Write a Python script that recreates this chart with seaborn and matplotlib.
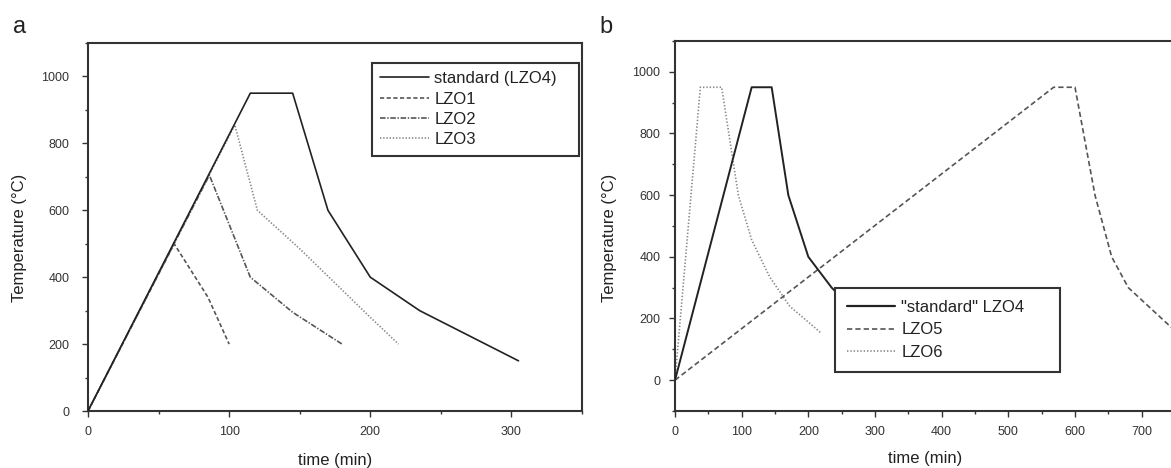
import matplotlib
matplotlib.use("Agg")
import matplotlib.pyplot as plt
import seaborn as sns
import pandas as pd
from matplotlib.ticker import MultipleLocator
from matplotlib.lines import Line2D

# ---------------- data ----------------
# panel a
std_t = [0, 115, 145, 170, 200, 235, 305]
std_T = [0, 950, 950, 600, 400, 300, 150]
lzo1_t = [0, 61, 85, 100]
lzo1_T = [0, 500, 340, 200]
lzo2_t = [0, 86, 115, 145, 180]
lzo2_T = [0, 705, 400, 295, 200]
lzo3_t = [0, 104, 120, 150, 200, 220]
lzo3_T = [0, 855, 600, 485, 280, 200]
labels_a = ["standard (LZO4)", "LZO1", "LZO2", "LZO3"]

# panel b
lzo4_t = [0, 115, 145, 170, 200, 235, 305]
lzo4_T = [0, 950, 950, 600, 400, 300, 150]
lzo5_t = [0, 568, 600, 630, 655, 680, 750]
lzo5_T = [0, 950, 950, 600, 400, 300, 160]
lzo6_t = [0, 38, 70, 95, 115, 142, 172, 218]
lzo6_T = [0, 950, 950, 600, 455, 335, 240, 155]
labels_b = ['"standard" LZO4', "LZO5", "LZO6"]

# ---------------- style ----------------
sns.set_style("ticks")
plt.rcParams["font.family"] = ["Liberation Sans", "DejaVu Sans"]
plt.rcParams["lines.scale_dashes"] = False

W, H = 1171, 468
fig = plt.figure(figsize=(W / 100, H / 100), dpi=100)

def axes_px(l, r, t, b):
    return fig.add_axes([l / W, (H - b) / H, (r - l) / W, (b - t) / H])

ax1 = axes_px(88, 582, 43, 411)
ax2 = axes_px(675, 1175, 41, 411)

c_std = "#222222"
c_dash = "#555555"
c_dot = "#888888"

def draw(ax, t, T, color, ls, lw=1.2, z=2):
    df = pd.DataFrame({"t": t, "T": T})
    sns.lineplot(data=df, x="t", y="T", ax=ax, sort=False, estimator=None,
                 color=color, linestyle=ls, linewidth=lw, zorder=z)

ls1 = (0, (3.0, 1.8))
ls2 = (0, (4.0, 1.2, 1.0, 1.2))
ls3 = (0, (1.0, 1.3))
ls5 = (0, (3.8, 2.2))
ls6 = (0, (1.0, 1.4))

# panel a
draw(ax1, lzo1_t, lzo1_T, c_dash, ls1)
draw(ax1, lzo2_t, lzo2_T, c_dash, ls2)
draw(ax1, lzo3_t, lzo3_T, c_dot, ls3)
draw(ax1, std_t, std_T, c_std, "-", lw=1.2, z=3)

# panel b
draw(ax2, lzo6_t, lzo6_T, c_dot, ls6)
draw(ax2, lzo5_t, lzo5_T, c_dash, ls5)
draw(ax2, lzo4_t, lzo4_T, c_std, "-", lw=1.4, z=3)

for ax in (ax1, ax2):
    for s in ax.spines.values():
        s.set_visible(True)
        s.set_linewidth(1.5)
        s.set_color("#333333")
    ax.tick_params(which="major", direction="out", length=4.5, width=1.0,
                   color="#333333", labelsize=9, labelcolor="#333333")
    ax.tick_params(which="minor", direction="out", length=2.5, width=1.0,
                   color="#333333")
    ax.yaxis.set_major_locator(MultipleLocator(200))
    ax.yaxis.set_minor_locator(MultipleLocator(100))
    ax.xaxis.set_minor_locator(MultipleLocator(50))
    ax.xaxis.set_major_locator(MultipleLocator(100))
    ax.set_xlabel("time (min)", fontsize=12, color="#222222")
    ax.set_ylabel("Temperature (°C)", fontsize=12, color="#222222")
    ax.yaxis.label.set_va("center")
    ax.xaxis.label.set_va("center")

ax1.set_xlim(0, 350)
ax1.set_ylim(0, 1100)
ax2.set_xlim(0, 750)
ax2.set_ylim(-100, 1100)
ax1.tick_params(axis="y", which="major", pad=9)
ax2.tick_params(axis="y", which="major", pad=6)
ax1.tick_params(axis="x", which="major", pad=6.5)
ax2.tick_params(axis="x", which="major", pad=6.5)

# label positions (axes coords)
ax1.yaxis.set_label_coords((19.5 - 88) / 494, (411 - 238) / 368)
ax2.yaxis.set_label_coords((609 - 675) / 500, (411 - 238) / 370)
ax1.xaxis.set_label_coords(0.5, (411 - 460) / 368)
ax2.xaxis.set_label_coords(0.5, (411 - 458) / 370)

# legends
def legend(ax, handles, labels, x0, ytop, w, spacing, pad):
    lg = ax.legend(handles, labels, loc="upper left",
                   bbox_to_anchor=(x0, ytop - 0.5, w, 0.5), mode="expand",
                   borderaxespad=0, frameon=True, fancybox=False,
                   edgecolor="#333333", framealpha=1, facecolor="white",
                   fontsize=12, handlelength=2.9, handletextpad=0.35,
                   labelspacing=spacing, borderpad=pad)
    lg.get_frame().set_linewidth(1.5)
    lg.set_zorder(10)
    for t in lg.get_texts():
        t.set_color("#222222")
    return lg

h_a = [Line2D([], [], color=c_std, lw=1.2, ls="-"),
       Line2D([], [], color=c_dash, lw=1.2, ls=ls1),
       Line2D([], [], color=c_dash, lw=1.2, ls=ls2),
       Line2D([], [], color=c_dot, lw=1.2, ls=ls3)]
legend(ax1, h_a, labels_a, (372 - 88) / 494, (411 - 63) / 368, 207 / 494, 0.32, 0.5)

h_b = [Line2D([], [], color=c_std, lw=1.6, ls="-"),
       Line2D([], [], color=c_dash, lw=1.2, ls=ls5),
       Line2D([], [], color=c_dot, lw=1.2, ls=ls6)]
legend(ax2, h_b, labels_b, (835 - 675) / 500, (411 - 288) / 370, 225 / 500, 0.44, 0.72)

fig.text(12.5 / W, (H - 33) / H, "a", fontsize=17, va="baseline", ha="left", color="#222222")
fig.text(599 / W, (H - 33) / H, "b", fontsize=17, va="baseline", ha="left", color="#222222")

fig.savefig("out.png", dpi=100)
